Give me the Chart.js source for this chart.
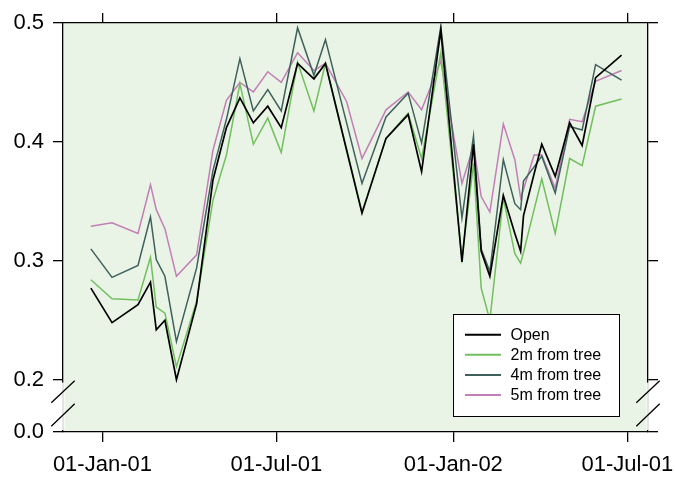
<!DOCTYPE html>
<html lang="en">
<head>
<meta charset="UTF-8">
<title>Soil moisture near trees</title>
<script src="https://cdn.jsdelivr.net/npm/chart.js"></script>
<style>
  body { margin: 0; background: #fff; }
</style>
</head>
<body>
<canvas id="grafico" width="675" height="478"></canvas>
<script>
// x values: days since 01-Jan-2001
const days = [-12, 10, 37, 50, 56, 65, 77, 98, 115, 129, 143, 157, 172, 186, 203, 220, 232, 254, 270,
              295, 318, 332, 352, 374, 386, 394, 403, 417, 429, 435, 438, 449, 457, 471, 486, 499, 513, 540]
const openVals = [0.277, 0.248, 0.263, 0.282, 0.242, 0.250, 0.200, 0.264, 0.368, 0.412, 0.437, 0.416, 0.430,
                  0.412, 0.466, 0.453, 0.466, 0.393, 0.340, 0.403, 0.423, 0.375, 0.494, 0.299, 0.398, 0.308,
                  0.287, 0.355, 0.323, 0.308, 0.338, 0.373, 0.398, 0.371, 0.416, 0.397, 0.454, 0.473]
const m2Vals = [0.284, 0.268, 0.267, 0.303, 0.261, 0.256, 0.211, 0.266, 0.351, 0.389, 0.449, 0.398, 0.420,
                0.391, 0.467, 0.426, 0.466, 0.394, 0.341, 0.403, 0.424, 0.386, 0.475, 0.302, 0.382, 0.277,
                0.250, 0.353, 0.306, 0.298, 0.307, 0.343, 0.369, 0.323, 0.386, 0.380, 0.430, 0.436]
const m4Vals = [0.310, 0.286, 0.296, 0.337, 0.301, 0.287, 0.232, 0.294, 0.376, 0.419, 0.470, 0.426, 0.444,
                0.426, 0.496, 0.456, 0.486, 0.416, 0.365, 0.421, 0.441, 0.399, 0.497, 0.336, 0.405, 0.310,
                0.291, 0.385, 0.348, 0.343, 0.367, 0.379, 0.388, 0.357, 0.413, 0.410, 0.465, 0.452]
const m5Vals = [0.329, 0.332, 0.323, 0.364, 0.343, 0.327, 0.287, 0.305, 0.393, 0.435, 0.450, 0.442, 0.459,
                0.450, 0.475, 0.460, 0.466, 0.434, 0.386, 0.427, 0.442, 0.427, 0.468, 0.365, 0.397, 0.354,
                0.341, 0.415, 0.385, 0.353, 0.360, 0.389, 0.389, 0.361, 0.419, 0.417, 0.451, 0.460]

const seriesNames = ["Open", "2m from tree", "4m from tree", "5m from tree"]
const seriesColors = ["#000000", "#72bf5e", "#3f605b", "#c27fb6"]

const xTickDays = [0, 181, 365, 546]
const xTickLabels = ["01-Jan-01", "01-Jul-01", "01-Jan-02", "01-Jul-01"]
const yTicks = [0.2, 0.3, 0.4, 0.5]
// axis is broken below 0.2: the bottom of the plot stands for 0.0
const yBreak = 0.156

const bg = "#eaf4e6"
const fontFam = "'Liberation Sans', Arial, sans-serif"

const toPoints = vals => vals.map((v, i) => ({ x: days[i], y: v }))
const allVals = [openVals, m2Vals, m4Vals, m5Vals]

const plotBg = {
  id: "plotBg",
  beforeDraw(chart) {
    const { ctx, chartArea: a } = chart
    ctx.save()
    ctx.fillStyle = bg
    ctx.fillRect(a.left, a.top, a.right - a.left, a.bottom - a.top)
    ctx.restore()
  }
}

const axisBreak = {
  id: "axisBreak",
  afterDraw(chart) {
    const { ctx, chartArea: a } = chart
    const p2 = chart.scales.y.getPixelForValue(0.2)
    const g = a.bottom - p2
    ctx.save()
    ;[a.left, a.right].forEach(xa => {
      ctx.fillStyle = "#fff"
      ctx.fillRect(xa - 1.5, p2 + 3, 3, g - 5)
      ctx.strokeStyle = "#c8c8c8"
      ctx.lineWidth = 1
      ctx.beginPath()
      ctx.moveTo(xa, p2 + 3)
      ctx.lineTo(xa, a.bottom - 2)
      ctx.stroke()
      ctx.strokeStyle = "#000"
      ctx.lineWidth = 1.3
      ctx.beginPath()
      ctx.moveTo(xa - 11.7, p2 + g * 0.44)
      ctx.lineTo(xa + 11.7, p2 + g * 0.02)
      ctx.moveTo(xa - 11.7, p2 + g * 0.89)
      ctx.lineTo(xa + 11.7, p2 + g * 0.46)
      ctx.stroke()
    })
    ctx.restore()
  }
}

const boxLegend = {
  id: "boxLegend",
  afterDraw(chart) {
    const { ctx, chartArea: a } = chart
    const bx = a.right - 195, by = a.bottom - 118, bw = 166, bh = 102
    ctx.save()
    ctx.fillStyle = "#fff"
    ctx.fillRect(bx, by, bw, bh)
    ctx.strokeStyle = "#000"
    ctx.lineWidth = 1
    ctx.strokeRect(bx + 0.5, by + 0.5, bw, bh)
    ctx.font = "16px " + fontFam
    ctx.textBaseline = "middle"
    chart.data.datasets.forEach((ds, i) => {
      const yy = by + 20.7 + i * 20.1
      ctx.strokeStyle = ds.borderColor
      ctx.lineWidth = 2
      ctx.beginPath()
      ctx.moveTo(bx + 12, yy)
      ctx.lineTo(bx + 48, yy)
      ctx.stroke()
      ctx.fillStyle = "#000"
      ctx.fillText(ds.label, bx + 57.5, yy + 1)
    })
    ctx.restore()
  }
}

const tickGrid = { drawOnChartArea: false, drawTicks: true, tickLength: 10, color: "#000", lineWidth: 1.3 }
const tickBorder = { display: true, color: "#000", width: 1.3 }
const noPad = s => { s.paddingLeft = 0; s.paddingRight = 0; s.paddingTop = 0; s.paddingBottom = 0 }

const grafico = new Chart(document.getElementById("grafico"), {
  type: "line",
  data: {
    datasets: allVals.map((vals, i) => ({
      label: seriesNames[i],
      data: toPoints(vals),
      borderColor: seriesColors[i],
      borderWidth: i === 0 ? 1.7 : 1.5,
      pointRadius: 0,
      tension: 0,
      fill: false
    }))
  },
  options: {
    responsive: false,
    animation: false,
    layout: { padding: 0 },
    plugins: { legend: { display: false }, tooltip: { enabled: false } },
    scales: {
      x: {
        type: "linear", position: "bottom", min: -41, max: 567.5,
        afterBuildTicks: s => { s.ticks = xTickDays.map(v => ({ value: v })) },
        afterFit: s => { s.height = 46; noPad(s) },
        ticks: {
          callback: (v, i) => xTickLabels[i],
          color: "#000", font: { size: 22, family: fontFam }, padding: 10,
          maxRotation: 0, autoSkip: false
        },
        grid: tickGrid, border: tickBorder
      },
      x2: {
        type: "linear", axis: "x", position: "top", min: -41, max: 567.5,
        afterBuildTicks: s => { s.ticks = xTickDays.map(v => ({ value: v })) },
        afterFit: s => { s.height = 23; noPad(s) },
        ticks: { callback: () => "", autoSkip: false, maxRotation: 0 },
        grid: tickGrid, border: tickBorder
      },
      y: {
        type: "linear", position: "left", min: yBreak, max: 0.5,
        afterBuildTicks: s => { s.ticks = [yBreak, ...yTicks].map(v => ({ value: v })) },
        afterFit: s => { s.width = 63; noPad(s) },
        ticks: {
          callback: v => (v < 0.19 ? "0.0" : v.toFixed(1)),
          color: "#000", font: { size: 22, family: fontFam }, padding: 9
        },
        grid: tickGrid, border: tickBorder
      },
      y2: {
        type: "linear", axis: "y", position: "right", min: yBreak, max: 0.5,
        afterBuildTicks: s => { s.ticks = [yBreak, ...yTicks].map(v => ({ value: v })) },
        afterFit: s => { s.width = 27; noPad(s) },
        ticks: { callback: () => "" },
        grid: tickGrid, border: tickBorder
      }
    }
  },
  plugins: [plotBg, axisBreak, boxLegend]
})
</script>
</body>
</html>
